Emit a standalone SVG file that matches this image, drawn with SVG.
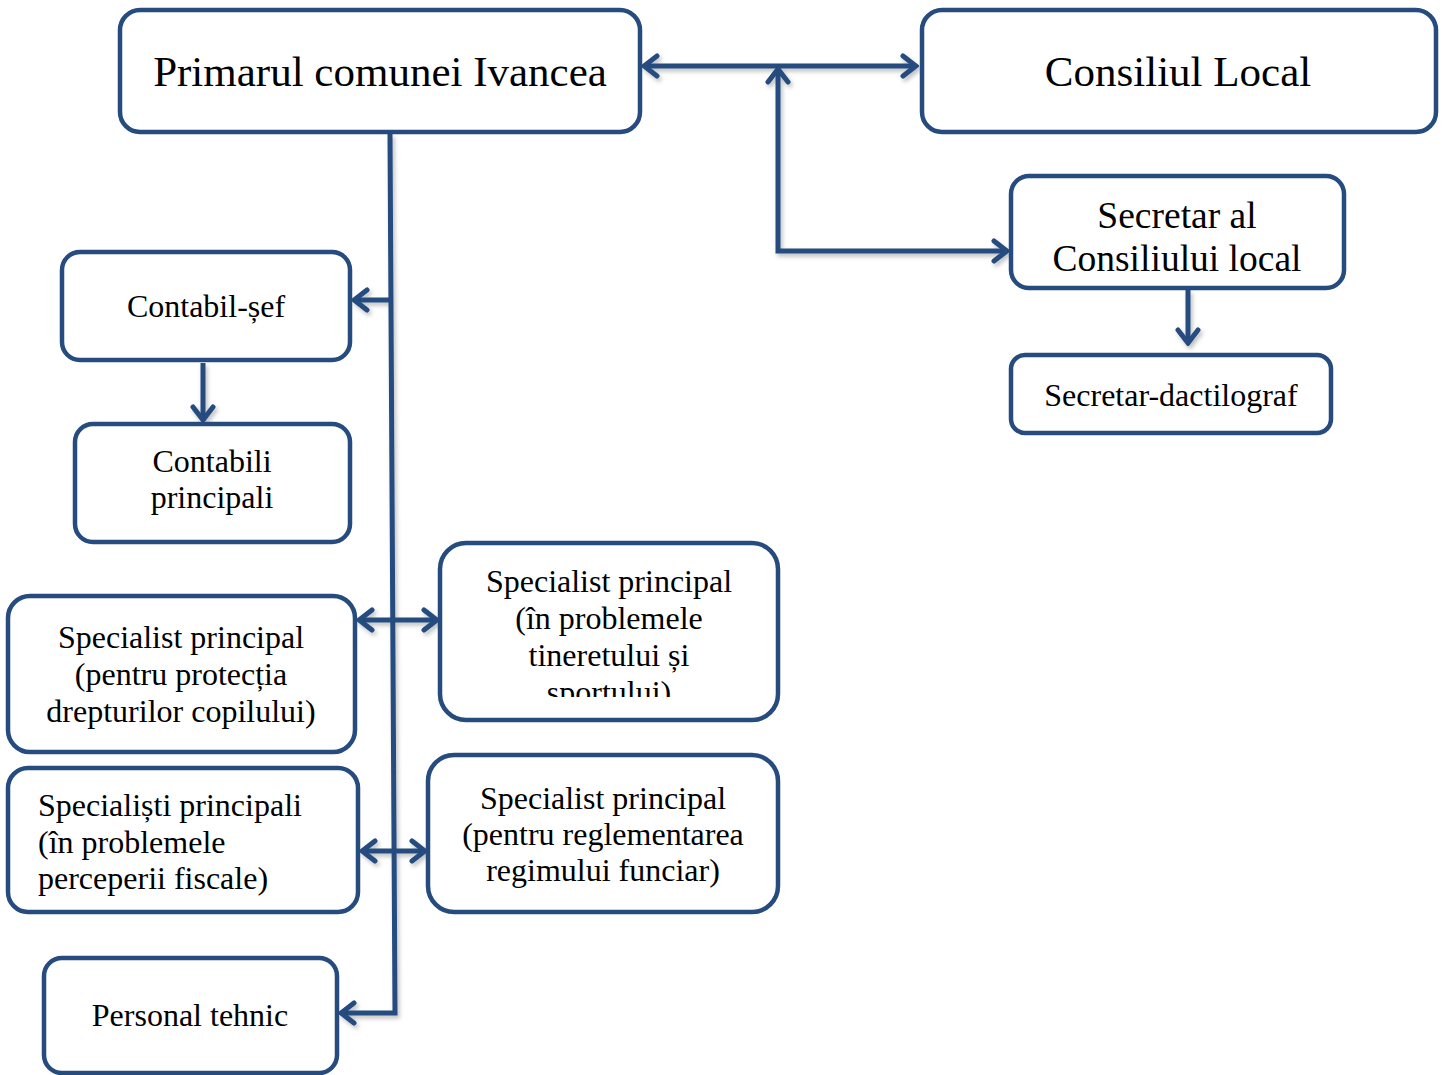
<svg xmlns="http://www.w3.org/2000/svg" width="1444" height="1075" viewBox="0 0 1444 1075">
<style>
.box{fill:#fff;stroke:#254B7F;stroke-width:4.5}
.t{font-family:"Liberation Serif","Times New Roman",serif;fill:#000;text-anchor:middle;font-size:32px}
.l{text-anchor:start}
.c{fill:none;stroke:#254B7F;stroke-width:5;stroke-linejoin:miter}
</style>
<defs>
<marker id="ah" viewBox="-16 -13 19 26" markerWidth="19" markerHeight="26" refX="0" refY="0" orient="auto-start-reverse" markerUnits="userSpaceOnUse">
<path d="M -13 -10 L 0 0 L -13 10" fill="none" stroke="#254B7F" stroke-width="5" stroke-linecap="round"/>
</marker>
<filter id="sh" x="-10%" y="-10%" width="120%" height="120%">
<feDropShadow dx="2" dy="3" stdDeviation="2" flood-color="#000" flood-opacity="0.25"/>
</filter>
<clipPath id="clipSec"><rect x="1011" y="176" width="333" height="99"/></clipPath>
<clipPath id="clipTin"><rect x="440" y="543" width="338" height="154"/></clipPath>
</defs>

<g id="connectors" filter="url(#sh)">
<line class="c" x1="644" y1="66" x2="916" y2="66" marker-start="url(#ah)" marker-end="url(#ah)"/>
<polyline class="c" points="1007,251 778,251 778,69" marker-start="url(#ah)" marker-end="url(#ah)"/>
<line class="c" x1="1188" y1="290" x2="1188" y2="343" marker-end="url(#ah)"/>
<polyline class="c" points="390,134 395,1013 341,1013" marker-end="url(#ah)"/>
<line class="c" x1="390" y1="300" x2="354" y2="300" marker-end="url(#ah)"/>
<line class="c" x1="203" y1="363" x2="203" y2="420" marker-end="url(#ah)"/>
<line class="c" x1="359" y1="620" x2="437" y2="620" marker-start="url(#ah)" marker-end="url(#ah)"/>
<line class="c" x1="362" y1="851" x2="425" y2="851" marker-start="url(#ah)" marker-end="url(#ah)"/>
</g>

<g id="primar">
<rect class="box" x="120" y="10" width="520" height="122" rx="20"/>
<text class="t" x="380" y="86" style="font-size:43px">Primarul comunei Ivancea</text>
</g>
<g id="consiliu">
<rect class="box" x="922" y="10" width="514" height="122" rx="20"/>
<text class="t" x="1178" y="86" style="font-size:43px">Consiliul Local</text>
</g>
<g id="secretar">
<rect class="box" x="1011" y="176" width="333" height="112" rx="18"/>
<g clip-path="url(#clipSec)">
<text class="t" x="1177" y="228" style="font-size:37.5px">Secretar al</text>
<text class="t" x="1177" y="271" style="font-size:37.5px">Consiliului local</text>
</g>
</g>
<g id="dactilograf">
<rect class="box" x="1011" y="355" width="320" height="78" rx="14"/>
<text class="t" x="1171" y="406">Secretar-dactilograf</text>
</g>
<g id="contabil-sef">
<rect class="box" x="62" y="252" width="288" height="108" rx="18"/>
<text class="t" x="206" y="317">Contabil-șef</text>
</g>
<g id="contabili">
<rect class="box" x="75" y="424" width="275" height="118" rx="18"/>
<text class="t" x="212" y="472">Contabili</text>
<text class="t" x="212" y="508">principali</text>
</g>
<g id="spec-copil">
<rect class="box" x="8" y="596" width="347" height="156" rx="22"/>
<text class="t" x="181" y="648">Specialist principal</text>
<text class="t" x="181" y="685">(pentru protecția</text>
<text class="t" x="181" y="722">drepturilor copilului)</text>
</g>
<g id="spec-tineret">
<rect class="box" x="440" y="543" width="338" height="177" rx="26"/>
<g clip-path="url(#clipTin)">
<text class="t" x="609" y="592">Specialist principal</text>
<text class="t" x="609" y="629">(în problemele</text>
<text class="t" x="609" y="666">tineretului și</text>
<text class="t" x="609" y="703">sportului)</text>
</g>
</g>
<g id="spec-fiscal">
<rect class="box" x="8" y="768" width="350" height="144" rx="20"/>
<text class="t l" x="38" y="816">Specialiști principali</text>
<text class="t l" x="38" y="853">(în problemele</text>
<text class="t l" x="38" y="889">perceperii fiscale)</text>
</g>
<g id="spec-funciar">
<rect class="box" x="428" y="755" width="350" height="157" rx="26"/>
<text class="t" x="603" y="809">Specialist principal</text>
<text class="t" x="603" y="845">(pentru reglementarea</text>
<text class="t" x="603" y="881">regimului funciar)</text>
</g>
<g id="personal">
<rect class="box" x="44" y="958" width="293" height="115" rx="18"/>
<text class="t" x="190" y="1026">Personal tehnic</text>
</g>
</svg>
